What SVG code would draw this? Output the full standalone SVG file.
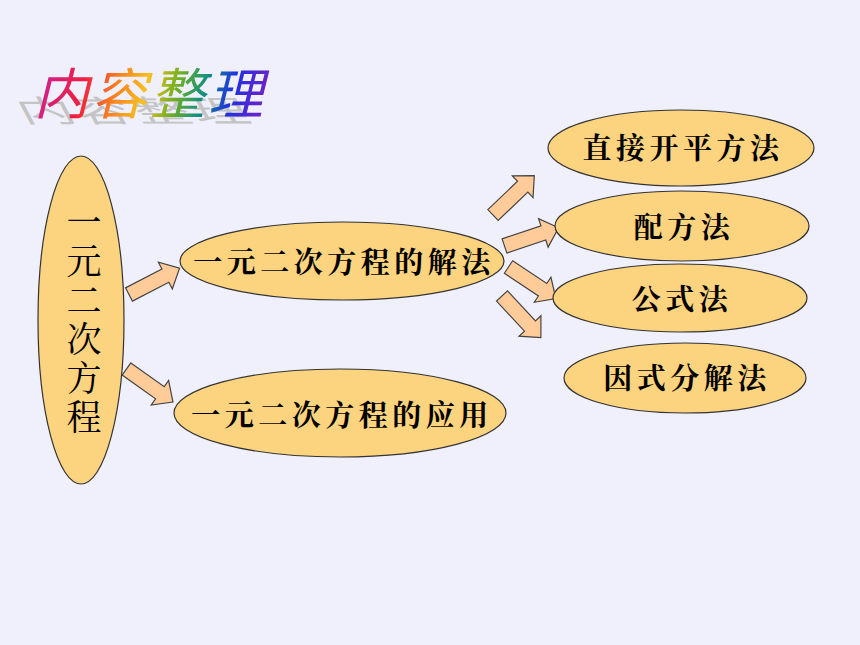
<svg xmlns="http://www.w3.org/2000/svg" width="860" height="645" viewBox="0 0 860 645">
<defs>
<style>
.node{fill:#FCD37F;stroke:#333;stroke-width:1.2}
.arrow{fill:#FFCC99;stroke:#444;stroke-width:1.2;stroke-linejoin:miter}
.lbl{font-family:"Noto Serif CJK SC","Noto Sans CJK SC",serif;font-weight:bold;font-size:29px;fill:#000;text-anchor:middle;letter-spacing:4.5px}
.vt{font-family:"Noto Serif CJK SC","Noto Sans CJK SC",serif;font-size:35px;fill:#000;writing-mode:vertical-rl;letter-spacing:4px}
.title{font-family:"Noto Sans CJK SC",sans-serif;font-size:55px;letter-spacing:3px}
</style>
<linearGradient id="rainbow" gradientUnits="userSpaceOnUse" x1="0" y1="0" x2="235" y2="0">
<stop offset="0" stop-color="#D0208A"/>
<stop offset="0.18" stop-color="#F02040"/>
<stop offset="0.32" stop-color="#F88020"/>
<stop offset="0.45" stop-color="#F8C020"/>
<stop offset="0.58" stop-color="#70B020"/>
<stop offset="0.7" stop-color="#109080"/>
<stop offset="0.82" stop-color="#2030E0"/>
<stop offset="1" stop-color="#8020C0"/>
</linearGradient>
<path id="blk" d="M0,-7.5 L41,-7.5 L41,-15 L57,0 L41,15 L41,7.5 L0,7.5 Z"/>
</defs>
<rect width="860" height="645" fill="#F0F0FC"/>
<g id="title">
<text class="title" fill="#C4C4C4" transform="translate(24,122) skewX(28) scale(1,0.55)" x="0" y="0">内容整理</text>
<text class="title" fill="url(#rainbow)" transform="translate(34,114) skewX(-14)" x="0" y="0">内容整理</text>
</g>
<g id="connectors">
<use href="#blk" class="arrow" transform="translate(129,294.5) rotate(-27.5)"/>
<use href="#blk" class="arrow" transform="translate(126.5,369) rotate(35.4)"/>
<use href="#blk" class="arrow" transform="translate(493,215) rotate(-43.6)"/>
<use href="#blk" class="arrow" transform="translate(504.5,246) rotate(-18.6)"/>
<use href="#blk" class="arrow" transform="translate(508.5,267) rotate(33.7)"/>
<use href="#blk" class="arrow" transform="translate(502,296) rotate(47)"/>
</g>
<g id="node-root">
<ellipse class="node" cx="81" cy="320" rx="43" ry="164"/>
<text class="vt" x="84" y="204">一元二次方程</text>
</g>
<g id="node-solve">
<ellipse class="node" cx="342" cy="261" rx="162" ry="39"/>
<text class="lbl" x="344" y="273">一元二次方程的解法</text>
</g>
<g id="node-apply">
<ellipse class="node" cx="340" cy="413" rx="166" ry="44"/>
<text class="lbl" x="342" y="426">一元二次方程的应用</text>
</g>
<g id="node-m1">
<ellipse class="node" cx="681" cy="148" rx="133" ry="38"/>
<text class="lbl" x="683" y="159">直接开平方法</text>
</g>
<g id="node-m2">
<ellipse class="node" cx="682" cy="226" rx="127" ry="35"/>
<text class="lbl" x="684" y="238">配方法</text>
</g>
<g id="node-m3">
<ellipse class="node" cx="680" cy="298" rx="127" ry="34"/>
<text class="lbl" x="682" y="310">公式法</text>
</g>
<g id="node-m4">
<ellipse class="node" cx="685" cy="378" rx="121" ry="35"/>
<text class="lbl" x="687" y="389">因式分解法</text>
</g>
</svg>
